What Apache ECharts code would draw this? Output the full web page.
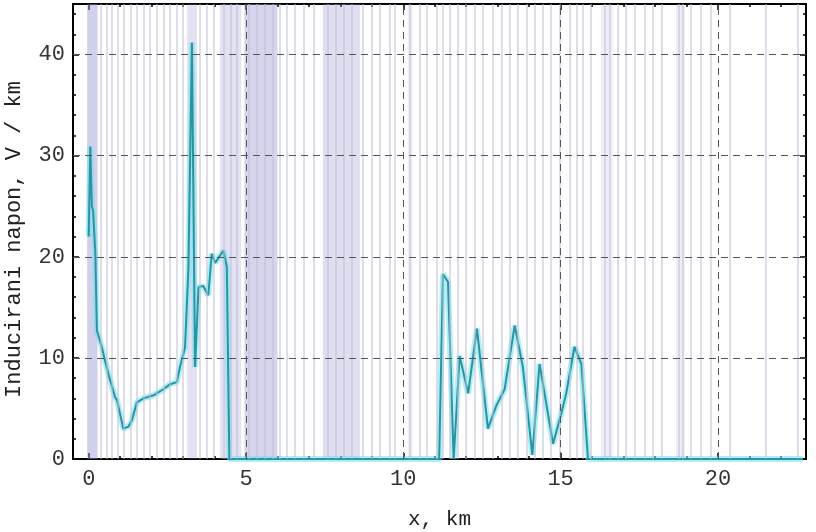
<!DOCTYPE html>
<html>
<head>
<meta charset="utf-8">
<script src="https://cdn.jsdelivr.net/npm/echarts@6/dist/echarts.min.js"></script>
<style>
html,body{margin:0;padding:0;background:#fff;}
#chart{width:816px;height:532px;}
</style>
</head>
<body>
<div id="chart"></div>
<script>
// ---- data ----
const distanceKm = [0.0, 0.05, 0.1, 0.14, 0.21, 0.26, 0.42, 0.52, 0.68, 0.84, 0.9, 1.1, 1.26, 1.37, 1.53, 1.74, 2.06, 2.37, 2.59, 2.8, 2.9, 3.06, 3.17, 3.28, 3.38, 3.49, 3.64, 3.8, 3.91, 4.02, 4.17, 4.28, 4.39, 4.47,
  11.14, 11.26, 11.42, 11.6, 11.79, 12.06, 12.34, 12.69, 12.96, 13.22, 13.54, 13.8, 14.1, 14.33, 14.76, 15.02, 15.18, 15.44, 15.66, 15.87, 22.7];
const voltage = [22.0, 30.9, 25.0, 24.5, 20.3, 12.7, 11.0, 9.7, 7.8, 6.1, 5.8, 3.0, 3.2, 3.8, 5.6, 6.0, 6.3, 6.9, 7.4, 7.6, 9.1, 11.0, 19.0, 41.2, 9.1, 17.0, 17.1, 16.2, 20.3, 19.4, 20.1, 20.6, 19.0, 0.0,
  0.0, 18.3, 17.5, 0.0, 10.2, 6.5, 12.9, 3.0, 5.3, 6.9, 13.2, 9.1, 0.4, 9.4, 1.5, 4.5, 6.5, 11.1, 9.4, 0.0, 0.0];

// light vertical marker lines (km)
const markerLines = [0.37, 0.56, 0.74, 0.91, 1.1, 1.32, 1.53, 1.74, 1.95, 2.16, 2.38, 2.59, 2.8, 3.0, 3.54, 3.75, 3.96, 4.3, 4.5, 4.7, 5.1, 5.35, 5.6, 5.85, 6.08, 6.29, 6.56, 6.82, 7.14, 7.6, 7.85, 8.1, 8.35, 8.72, 8.99, 9.25, 9.57, 9.73, 10.2, 10.52, 10.74, 11.05, 11.26, 11.48, 11.74, 12.0, 12.27, 12.53, 12.85, 13.12, 13.38, 13.64, 13.91, 14.17, 14.44, 14.7, 14.96, 15.28, 15.5, 15.71, 15.97, 16.4, 16.55, 16.82, 17.08, 17.35, 17.67, 17.93, 18.2, 18.75, 18.88, 19.15, 19.47, 19.78, 20.37, 21.53, 22.53];
// shaded bands: start, end (km)
const bandStart = [-0.05, 3.13, 4.17, 4.95, 7.44, 10.14, 16.29, 18.67];
const bandEnd   = [0.28, 3.44, 4.85, 6.0, 8.62, 10.3, 16.66, 18.94];
const bandShade = [0.45, 0.28, 0.28, 0.4, 0.3, 0.15, 0.16, 0.18];

const xMajor = [0, 5, 10, 15, 20];
const xMinor = [1, 2, 3, 4, 6, 7, 8, 9, 11, 12, 13, 14, 16, 17, 18, 19, 21, 22];
const yMajor = [0, 10, 20, 30, 40];
const yMinor = [2, 4, 6, 8, 12, 14, 16, 18, 22, 24, 26, 28, 32, 34, 36, 38, 42, 44];
const X_MIN = -0.5, X_MAX = 22.8, Y_MIN = 0, Y_MAX = 45;

const xTitle = 'x, km';
const yTitle = 'Inducirani napon, V / km';

// ---- chart ----
const FONT = "'Liberation Mono', 'DejaVu Sans Mono', monospace";
const seriesData = distanceKm.map((x, i) => [x, voltage[i]]);

function xAxisDef(pos, ticks, len, withLabels) {
  return {
    type: 'value', position: pos, min: X_MIN, max: X_MAX,
    axisLine: { show: true, onZero: false, lineStyle: { color: '#000', width: 2 } },
    axisTick: { show: true, inside: true, length: len, customValues: ticks, lineStyle: { color: '#000', width: 1.5 } },
    axisLabel: withLabels ? { show: true, customValues: ticks, fontFamily: FONT, fontSize: 22, color: '#333', margin: 9 } : { show: false },
    splitLine: { show: false },
    name: withLabels ? xTitle : '',
    nameLocation: 'middle', nameGap: 50,
    nameTextStyle: { fontFamily: FONT, fontSize: 21, color: '#222' }
  };
}
function yAxisDef(pos, ticks, len, withLabels) {
  return {
    type: 'value', position: pos, min: Y_MIN, max: Y_MAX,
    axisLine: { show: true, onZero: false, lineStyle: { color: '#000', width: 2 } },
    axisTick: { show: true, inside: true, length: len, customValues: ticks, lineStyle: { color: '#000', width: 1.5 } },
    axisLabel: withLabels ? { show: true, customValues: ticks, fontFamily: FONT, fontSize: 22, color: '#333', margin: 8 } : { show: false },
    splitLine: { show: false },
    name: withLabels ? yTitle : '',
    nameLocation: 'middle', nameGap: 48, nameRotate: 90,
    nameTextStyle: { fontFamily: FONT, fontSize: 22, color: '#222', padding: [0, 16, 0, 0] }
  };
}

const option = {
  animation: false,
  backgroundColor: '#fff',
  grid: { left: 73, right: 10, top: 4, bottom: 73, containLabel: false, outerBoundsMode: 'none' },
  xAxis: [
    xAxisDef('bottom', xMajor, 6, true),
    xAxisDef('bottom', xMinor, 3, false),
    xAxisDef('top', xMajor, 6, false),
    xAxisDef('top', xMinor, 3, false)
  ],
  yAxis: [
    yAxisDef('left', yMajor, 6, true),
    yAxisDef('left', yMinor, 3, false),
    yAxisDef('right', yMajor, 6, false),
    yAxisDef('right', yMinor, 3, false)
  ],
  series: [
    {
      type: 'line', data: [], silent: true, z: 1,
      markArea: {
        silent: true,
        data: bandStart.map((s, i) => [
          { xAxis: s, itemStyle: { color: 'rgba(150,150,210,' + bandShade[i] + ')' } },
          { xAxis: bandEnd[i] }
        ])
      },
      markLine: {
        silent: true, symbol: 'none', label: { show: false },
        lineStyle: { color: 'rgba(190,190,212,0.5)', width: 2, type: 'solid' },
        data: markerLines.map(v => ({ xAxis: v }))
      }
    },
    {
      type: 'line', data: [], silent: true, z: 2,
      markLine: {
        silent: true, symbol: 'none', label: { show: false },
        lineStyle: { color: '#555', width: 1, type: [7, 5] },
        data: xMajor.slice(1).map(v => ({ xAxis: v })).concat(yMajor.slice(1).map(v => ({ yAxis: v })))
      }
    },
    {
      type: 'line', data: seriesData, z: 3, showSymbol: false, silent: true,
      lineStyle: { color: 'rgba(110,225,240,0.55)', width: 6 }
    },
    {
      type: 'line', data: seriesData, z: 4, showSymbol: false, silent: true,
      lineStyle: { color: '#2c93a1', width: 2 }
    }
  ]
};

const chart = echarts.init(document.getElementById('chart'), null, { renderer: 'canvas' });
chart.setOption(option);
</script>
</body>
</html>
